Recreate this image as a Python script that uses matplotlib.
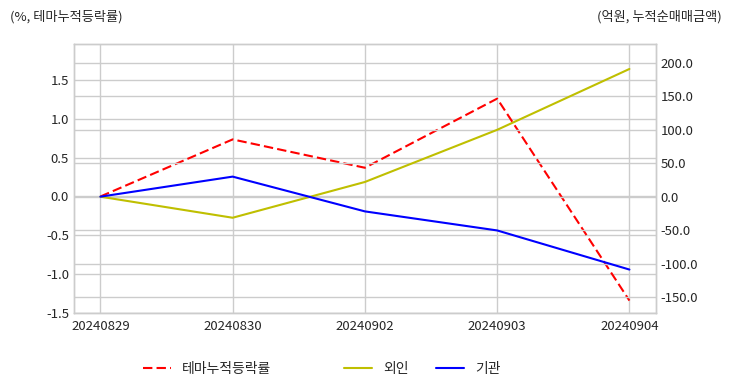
import numpy as np
import matplotlib
matplotlib.use('Agg')
from matplotlib import pyplot as plt
from matplotlib.ticker import MultipleLocator, FormatStrFormatter

plt.style.use('seaborn-v0_8-whitegrid')
plt.rcParams['font.family'] = ['Noto Sans CJK KR', 'DejaVu Sans']
plt.rcParams['axes.unicode_minus'] = False

dates = ['20240829', '20240830', '20240902', '20240903', '20240904']
theme_rate = [0.0, 0.735, 0.37, 1.26, -1.34]   # %, left axis
foreign = [0.0, -31.5, 22.0, 100.0, 191.0]     # 억원, right axis
inst = [0.0, 30.0, -22.0, -50.5, -109.0]       # 억원, right axis

x = np.arange(len(dates))

fig = plt.figure(figsize=(7.32, 3.92), dpi=100)
ax1 = fig.add_axes([0.101, 0.2015, 0.795, 0.687])
ax2 = ax1.twinx()

l1, = ax1.plot(x, theme_rate, 'r--', lw=1.5, dashes=(4.5, 2), label='테마누적등락률')
l2, = ax2.plot(x, foreign, 'y-', lw=1.5, label='외인')
l3, = ax2.plot(x, inst, 'b-', lw=1.5, label='기관')

ax1.set_xlim(-0.2, 4.2)
ax1.set_xticks(x)
ax1.set_xticklabels(dates)
ax1.set_ylim(-1.5, 1.967)
ax1.yaxis.set_major_locator(MultipleLocator(0.5))
ax2.set_ylim(-174, 228.8)
ax2.yaxis.set_major_locator(MultipleLocator(50))
ax2.yaxis.set_major_formatter(FormatStrFormatter('%.1f'))

for ax in (ax1, ax2):
    ax.tick_params(labelsize=9.5, colors='.15')
    ax.grid(True, color='.8', lw=1)
    for s in ax.spines.values():
        s.set_color('.8')
ax1.tick_params(axis='x', pad=5)

fig.text(0.014, 0.958, '(%, 테마누적등락률)', fontsize=9.5, color='.15', va='center')
fig.text(0.986, 0.958, '(억원, 누적순매매금액)', fontsize=9.5, color='.15', va='center', ha='right')

fig.legend(handles=[l1], loc='center', bbox_to_anchor=(0.283, 0.059), fontsize=10, frameon=False)
fig.legend(handles=[l2, l3], loc='center', bbox_to_anchor=(0.577, 0.059), ncol=2, fontsize=10, frameon=False)

plt.savefig('out.png', dpi=100)
